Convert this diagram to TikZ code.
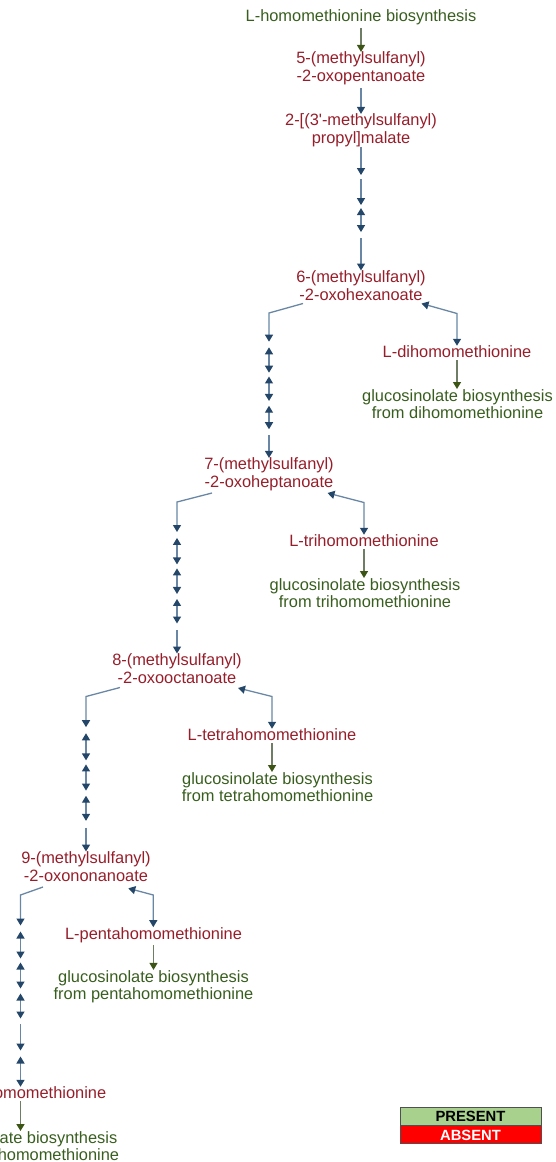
\documentclass[tikz,border=0pt]{standalone}
\usepackage{fontspec}
\setmainfont{Liberation Sans}
\usetikzlibrary{arrows.meta,calc}

\definecolor{cpdred}{RGB}{150,30,42}
\definecolor{pwygreen}{RGB}{56,94,30}
\definecolor{rxnline}{RGB}{105,135,165}
\definecolor{rxnhead}{RGB}{35,70,105}
\definecolor{pwyline}{RGB}{110,125,100}
\definecolor{pwyhead}{RGB}{60,85,20}
\definecolor{presentfill}{RGB}{169,209,142}
\definecolor{absentfill}{RGB}{255,0,0}
\definecolor{legendedge}{RGB}{80,80,80}

\tikzset{
  lbl/.style={inner sep=0pt, align=center, font=\fontsize{16.4}{17.5}\selectfont},
  cpd/.style={lbl, text=cpdred},
  pwy/.style={lbl, text=pwygreen},
  rxntip/.tip={Triangle[length=7pt,width=8pt,color=rxnhead]},
  pwytip/.tip={Triangle[length=7pt,width=8pt,color=pwyhead]},
  rxn/.style={draw=rxnline, line width=1.3pt, -rxntip},
  rev/.style={draw=rxnline, line width=1.3pt, rxntip-rxntip},
  link/.style={draw=pwyline, line width=1.3pt, -pwytip},
  legend/.style={draw=legendedge, line width=0.9pt, minimum width=141pt,
    minimum height=18pt, inner sep=0pt,
    font=\fontsize{14.8}{15}\selectfont\bfseries},
}

% collapsed run of reactions from a bend point down to the next keto acid
\newcommand\stepchain[2]{%
  \draw[rev] ($(#1)!0.237!(#2.north)$) -- ($(#1)!0.412!(#2.north)$);
  \draw[rev] ($(#1)!0.438!(#2.north)$) -- ($(#1)!0.607!(#2.north)$);
  \draw[rev] ($(#1)!0.640!(#2.north)$) -- ($(#1)!0.802!(#2.north)$);
  \draw[rxn] ($(#1)!0.845!(#2.north)$) -- (#2.north);
}

\begin{document}
\begin{tikzpicture}[x=1pt,y=-1pt]
\useasboundingbox (0,0) rectangle (555,1162);
\clip (0,0) rectangle (555,1162);

% ---- entry of the chain elongation
\node[pwy] (hmbio) at (361,17) {L-homomethionine biosynthesis};
\node[cpd] (mtop) at (361,68.5) {5-(methylsulfanyl)\\-2-oxopentanoate};
\node[cpd] (mspm) at (361,130.5) {2-[(3\textquotesingle-methylsulfanyl)\\propyl]malate};

% ---- keto acids and their amino acids
\node[cpd] (oxhex) at (361,285.5) {6-(methylsulfanyl)\\-2-oxohexanoate};
\node[cpd] (dihm) at (457,352) {L-dihomomethionine};
\node[pwy] (gsdihm) at (457.5,404) {glucosinolate biosynthesis\\from dihomomethionine};

\node[cpd] (oxhep) at (269,474.5) {7-(methylsulfanyl)\\-2-oxoheptanoate};
\node[cpd] (trihm) at (364,541) {L-trihomomethionine};
\node[pwy] (gstrihm) at (365,593) {glucosinolate biosynthesis\\from trihomomethionine};

\node[cpd] (oxoct) at (177,668.5) {8-(methylsulfanyl)\\-2-oxooctanoate};
\node[cpd] (tetrahm) at (272,735) {L-tetrahomomethionine};
\node[pwy] (gstetrahm) at (277.5,787) {glucosinolate biosynthesis\\from tetrahomomethionine};

\node[cpd] (oxnon) at (86,866.5) {9-(methylsulfanyl)\\-2-oxononanoate};
\node[cpd] (pentahm) at (153.5,935) {L-pentahomomethionine};
\node[pwy] (gspentahm) at (153.5,986.5) {glucosinolate biosynthesis\\from pentahomomethionine};

\node[cpd] (hexahm) at (20.5,1093) {L-hexahomomethionine};
\node[pwy] (gshexahm) at (22,1146) {glucosinolate biosynthesis\\from hexahomomethionine};

% ---- top connectors
\draw[link, shorten <=3pt] (hmbio) -- (mtop);
\draw[rxn, shorten <=3pt] (mtop) -- (mspm);
\draw[rxn] (mspm.south) -- ($(mspm.south)+(0,28)$);
\draw[rxn] ($(mspm.south)+(0,32)$) -- ($(mspm.south)+(0,58)$);
\draw[rev] ($(mspm.south)+(0,61)$) -- ($(mspm.south)+(0,85)$);
\draw[rxn] ($(mspm.south)+(0,91)$) -- (oxhex.north);

% ---- branch points
\coordinate (oxhexL) at ($(oxhex)+(-58,18)$);
\coordinate (oxhexK) at ($(oxhex)+(-92,27.5)$);
\coordinate (oxhexR) at ($(oxhex)+(60.5,18)$);
\coordinate (oxhexB) at ($(oxhex)+(96,28)$);

\coordinate (oxhepL) at ($(oxhep)+(-57,18.5)$);
\coordinate (oxhepK) at ($(oxhep)+(-92,27.5)$);
\coordinate (oxhepR) at ($(oxhep)+(58.5,18.5)$);
\coordinate (oxhepB) at ($(oxhep)+(95,28)$);

\coordinate (oxoctL) at ($(oxoct)+(-57,19)$);
\coordinate (oxoctK) at ($(oxoct)+(-91,28)$);
\coordinate (oxoctR) at ($(oxoct)+(61,19.5)$);
\coordinate (oxoctB) at ($(oxoct)+(95,28)$);

\coordinate (oxnonL) at ($(oxnon)+(-43,20.5)$);
\coordinate (oxnonK) at ($(oxnon)+(-65.5,28.5)$);
\coordinate (oxnonR) at ($(oxnon)+(42.3,21.8)$);
\coordinate (oxnonB) at ($(oxnon)+(67.3,28.5)$);

% ---- elongation rounds (left) and transaminations (right)
\draw[rxn] (oxhexL) -- (oxhexK) -- ($(oxhexK)!0.198!(oxhep.north)$);
\stepchain{oxhexK}{oxhep}
\draw[rev] (oxhexR) -- (oxhexB) -- (dihm.north);
\draw[link, shorten <=2pt] (dihm.south) -- (dihm.south |- gsdihm.north);

\draw[rxn] (oxhepL) -- (oxhepK) -- ($(oxhepK)!0.198!(oxoct.north)$);
\stepchain{oxhepK}{oxoct}
\draw[rev] (oxhepR) -- (oxhepB) -- (trihm.north);
\draw[link, shorten <=2pt] (trihm.south) -- (trihm.south |- gstrihm.north);

\draw[rxn] (oxoctL) -- (oxoctK) -- ($(oxoctK)!0.198!(oxnon.north)$);
\stepchain{oxoctK}{oxnon}
\draw[rev] (oxoctR) -- (oxoctB) -- (tetrahm.north);
\draw[link, shorten <=2pt] (tetrahm.south) -- (tetrahm.south |- gstetrahm.north);

\draw[rxn] (oxnonL) -- (oxnonK) -- ($(oxnonK)+(0,30.5)$);
\draw[rev] ($(oxnonK)+(0,36.5)$) -- ($(oxnonK)+(0,63.5)$);
\draw[rev] ($(oxnonK)+(0,67.5)$) -- ($(oxnonK)+(0,93.5)$);
\draw[rev] ($(oxnonK)+(0,98.5)$) -- ($(oxnonK)+(0,123.5)$);
\draw[rxn] ($(oxnonK)+(0,129)$) -- ($(oxnonK)+(0,155.5)$);
\draw[rev] ($(oxnonK)+(0,161.5)$) -- (hexahm.north);
\draw[rev] (oxnonR) -- (oxnonB) -- (oxnonB |- pentahm.north);
\draw[link, shorten <=2pt] (pentahm.south) -- (pentahm.south |- gspentahm.north);
\draw[link, shorten <=2pt] (hexahm.south) -- (hexahm.south |- gshexahm.north);

% ---- legend
\node[legend, fill=presentfill, text=black] (present) at (470.5,1116) {PRESENT};
\node[legend, fill=absentfill, text=white, anchor=north] (absent) at (present.south) {ABSENT};
\end{tikzpicture}
\end{document}
